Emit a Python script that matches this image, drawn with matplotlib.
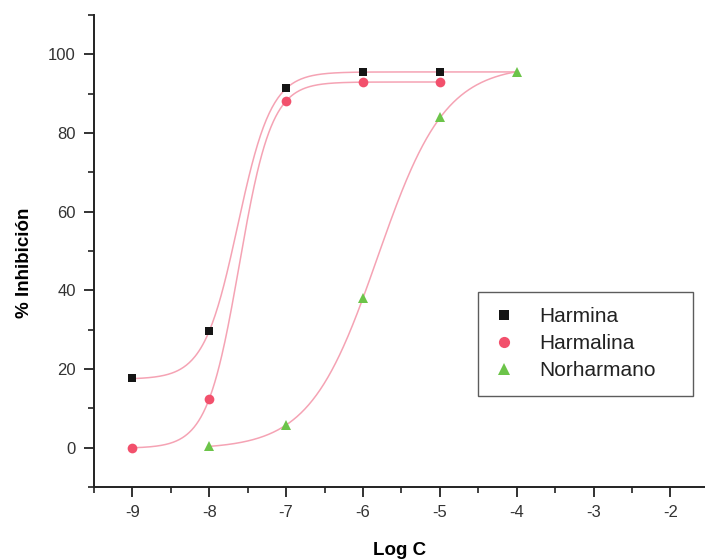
import numpy as np
import matplotlib
matplotlib.use('Agg')
import matplotlib.pyplot as plt
from matplotlib.ticker import MultipleLocator

plt.rcParams['font.family'] = ['Liberation Sans', 'DejaVu Sans']
plt.rcParams['axes.unicode_minus'] = False

# Data
log_c = [-9, -8, -7, -6, -5, -4]
harmina_x = [-9, -8, -7, -6, -5]
harmina_y = [17.6, 29.6, 91.4, 95.5, 95.5]
harmalina_x = [-9, -8, -7, -6, -5]
harmalina_y = [0.0, 12.4, 88.1, 93.0, 93.0]
norharmano_x = [-8, -7, -6, -5, -4]
norharmano_y = [0.3, 5.8, 38.0, 84.0, 95.5]


# Boltzmann sigmoid fit: y = A2 + (A1 - A2) / (1 + exp((x - x0) / dx))
# grid over x0 and dx, A1/A2 solved by linear least squares
def boltzmann_fit(x, y):
    x = np.asarray(x, float)
    y = np.asarray(y, float)
    x0s = np.linspace(-9.5, -3.5, 601)
    dxs = np.linspace(0.05, 1.5, 146)
    X0, DX = np.meshgrid(x0s, dxs, indexing='ij')
    f = 1.0 / (1.0 + np.exp((x[None, None, :] - X0[..., None]) / DX[..., None]))
    g = 1.0 - f
    sff = (f * f).sum(-1)
    sgg = (g * g).sum(-1)
    sfg = (f * g).sum(-1)
    sfy = (f * y).sum(-1)
    sgy = (g * y).sum(-1)
    det = sff * sgg - sfg ** 2
    a1 = (sfy * sgg - sgy * sfg) / det
    a2 = (sgy * sff - sfy * sfg) / det
    res = ((a1[..., None] * f + a2[..., None] * g - y) ** 2).sum(-1)
    i, j = np.unravel_index(np.argmin(res), res.shape)
    return a1[i, j], a2[i, j], X0[i, j], DX[i, j]


def boltzmann(x, a1, a2, x0, dx):
    return a2 + (a1 - a2) / (1.0 + np.exp((x - x0) / dx))


fig = plt.figure(figsize=(7.05, 5.6), dpi=100)
ax = fig.add_axes([0.1333, 0.1304, 0.8667, 0.8426])

curve_color = '#f5a3b4'
series = [
    ('Harmina', harmina_x, harmina_y, 's', '#151515', 6.0, (-9, -4)),
    ('Harmalina', harmalina_x, harmalina_y, 'o', '#f2506c', 7.0, (-9, -5)),
    ('Norharmano', norharmano_x, norharmano_y, '^', '#6cc449', 7.0, (-8, -4)),
]

for name, xs, ys, marker, color, ms, (xa, xb) in series:
    params = boltzmann_fit(xs, ys)
    xx = np.linspace(xa, xb, 400)
    ax.plot(xx, boltzmann(xx, *params), color=curve_color, lw=1.1, zorder=2)

handles = []
for name, xs, ys, marker, color, ms, _ in series:
    h, = ax.plot(xs, ys, linestyle='none', marker=marker, color=color,
                 markersize=ms, markeredgewidth=0, label=name, zorder=3)
    handles.append(h)

ax.set_xlim(-9.5, -1.55)
ax.set_ylim(-10, 110)
ax.set_xticks(log_c + [-3, -2])
ax.xaxis.set_minor_locator(MultipleLocator(0.5))
ax.set_yticks([0, 20, 40, 60, 80, 100])
ax.yaxis.set_minor_locator(MultipleLocator(10))

ax.spines['top'].set_visible(False)
ax.spines['right'].set_visible(False)
for s in ('left', 'bottom'):
    ax.spines[s].set_linewidth(1.4)
    ax.spines[s].set_color('#222222')

ax.tick_params(which='major', direction='out', length=7, width=1.3,
               labelsize=12, colors='#222222', pad=6)
ax.tick_params(which='minor', direction='out', length=4, width=1.2, colors='#222222')
for lab in ax.get_xticklabels() + ax.get_yticklabels():
    lab.set_color('#333333')

ax.set_xlabel('Log C', fontsize=13.5, fontweight='bold', labelpad=16)
ax.set_ylabel('% Inhibición', fontsize=13.5, fontweight='bold')
ax.yaxis.set_label_coords(-0.10, 0.475)

leg = ax.legend(handles=handles, loc='lower left',
                bbox_to_anchor=(0.628, 0.193, 0.352, 0.218), mode='expand',
                fontsize=15, frameon=True, fancybox=False, handlelength=1.0,
                handletextpad=1.2, borderpad=0.75, labelspacing=0.38,
                borderaxespad=0, markerscale=1.15)
leg.get_frame().set_edgecolor('#333333')
leg.get_frame().set_linewidth(1.0)
for t in leg.get_texts():
    t.set_color('#222222')

fig.savefig('out.png', dpi=100)
